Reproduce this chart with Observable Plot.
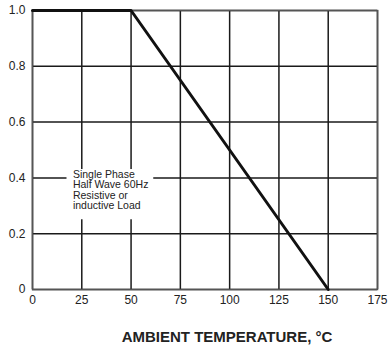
<!DOCTYPE html>
<html>
<head>
<meta charset="utf-8">
<script src="https://cdn.jsdelivr.net/npm/d3@7"></script>
<script src="https://cdn.jsdelivr.net/npm/@observablehq/plot@0.6"></script>
<style>
  html, body { margin: 0; padding: 0; background: #fff; }
</style>
</head>
<body>
<div id="chart"></div>
<script>
const temps = [0, 50, 150];
const current = [1.0, 1.0, 0.0];
const xTicks = [0, 25, 50, 75, 100, 125, 150, 175];
const yTicks = [0, 0.2, 0.4, 0.6, 0.8, 1.0];
const yTickLabels = ["0", "0.2", "0.4", "0.6", "0.8", "1.0"];
const xTitle = "AMBIENT TEMPERATURE, °C";
const noteText = "Single Phase\nHalf Wave 60Hz\nResistive or\ninductive Load";

const data = temps.map((t, i) => ({t, v: current[i]}));

const chart = Plot.plot({
  width: 390,
  height: 353,
  marginLeft: 32,
  marginRight: 13,
  marginTop: 10,
  marginBottom: 64,
  style: {fontFamily: "'Liberation Sans', Arial, sans-serif", fontSize: "12px", background: "white"},
  x: {domain: [0, 175], ticks: xTicks},
  y: {domain: [0, 1], ticks: yTicks},
  marks: [
    Plot.gridX(xTicks, {stroke: "#1a1a1a", strokeOpacity: 1, strokeWidth: 1.5}),
    Plot.gridY(yTicks, {stroke: "#1a1a1a", strokeOpacity: 1, strokeWidth: 1.5}),
    Plot.frame({stroke: "#555", strokeWidth: 1.5}),
    Plot.rect([{x1: 17.5, x2: 61.5, y1: 0.25, y2: 0.43}], {x1: "x1", x2: "x2", y1: "y1", y2: "y2", fill: "white"}),
    Plot.text([noteText], {x: 20.5, y: 0.428, text: d => d, textAnchor: "start", lineAnchor: "top", fontSize: 10.5, lineHeight: 1.0, fill: "#222"}),
    Plot.line(data, {x: "t", y: "v", stroke: "#111", strokeWidth: 3}),
    Plot.axisX(xTicks, {tickSize: 0, tickPadding: 6, fontSize: 12, fill: "#222", label: null}),
    Plot.axisY(yTicks, {tickSize: 0, tickPadding: 7, fontSize: 12, fill: "#222", label: null, tickFormat: (d, i) => yTickLabels[i]}),
    Plot.text([xTitle], {frameAnchor: "bottom", dy: 52, dx: 22, text: d => d, fontSize: 15, fontWeight: "bold", fill: "#222"})
  ]
});
document.getElementById("chart").appendChild(chart);
</script>
</body>
</html>
